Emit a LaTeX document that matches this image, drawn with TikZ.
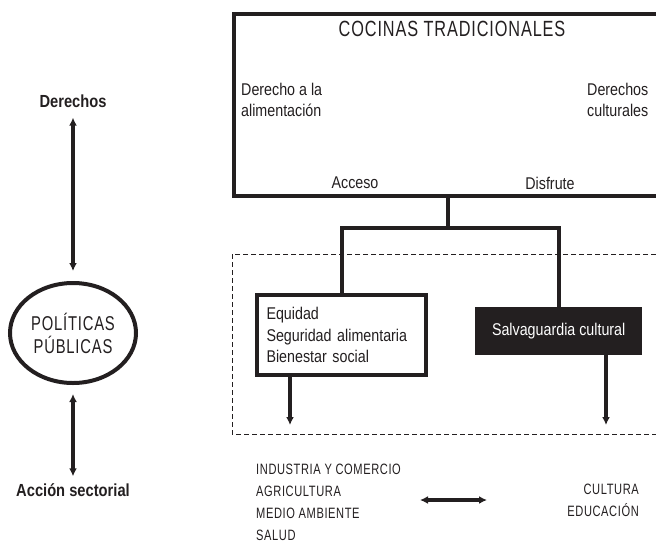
\documentclass[tikz,border=0pt]{standalone}
\usepackage{fontspec}
\setmainfont[FakeStretch=0.84]{Liberation Sans}
\newfontfamily\capsfont[FakeStretch=0.74,LetterSpace=4]{Liberation Sans}
\usetikzlibrary{arrows.meta,shapes.geometric}

\begin{document}
\begin{tikzpicture}[x=1pt,y=-1pt,
  txt/.style={inner sep=0pt,font=\fontsize{17}{21.5}\selectfont,text=ink},
  caps/.style={inner sep=0pt,font=\capsfont\fontsize{15}{22}\selectfont,text=ink},
  thickbox/.style={draw=ink,line width=4pt},
  link/.style={draw=ink,line width=4pt},
  arrow/.style={draw=ink,line width=3.5pt,-{Latex[length=8pt,width=8pt]}},
  dblarrow/.style={draw=ink,line width=3.5pt,{Latex[length=8pt,width=8pt]}-{Latex[length=8pt,width=8pt]}}]
\definecolor{ink}{HTML}{231F20}
\useasboundingbox (0,0) rectangle (656,544);
\clip (0,0) rectangle (656,544);
% caja superior
\node[thickbox,minimum width=460pt,minimum height=182pt,anchor=north west] (cocinas) at (232,12) {};
\node[caps,font=\capsfont\fontsize{22}{24}\selectfont] (titulo) at (452,29) {COCINAS TRADICIONALES};
\node[txt,anchor=west,align=left] (alimentacion) at (241,100) {Derecho a la\\alimentación};
\node[txt,anchor=west,align=left] (culturales) at (587,100) {Derechos\\culturales};
\node[txt] (acceso) at (355,183) {Acceso};
\node[txt] (disfrute) at (550,183) {Disfrute};
% zona de politicas
\draw[ink,line width=1pt,dash pattern=on 5pt off 3pt] (232,254) rectangle (680,434);
\node[thickbox,fill=white,minimum width=169pt,minimum height=80pt,anchor=north west,
  txt,inner sep=0pt,text width=150pt,align=left] (equidad) at (255,293)
  {Equidad\\Seguridad alimentaria\\Bienestar social};
\node[fill=ink,minimum width=167pt,minimum height=48pt,anchor=north west,
  txt,text=white] (salvaguardia) at (475,307) {Salvaguardia cultural};
\coordinate (split) at (448,228);
\draw[link] (split |- cocinas.south) -- (split);
\draw[link] (equidad.north) |- (split) -| (salvaguardia.north);
\coordinate (salidaA) at (290,425);
\coordinate (salidaB) at (606,425);
\draw[arrow] (salidaA |- equidad.south) -- (salidaA);
\draw[arrow] (salidaB |- salvaguardia.south) -- (salidaB);
% sectores
\node[caps,anchor=north west,align=left] (sectores) at (256,464)
  {INDUSTRIA Y COMERCIO\\AGRICULTURA\\MEDIO AMBIENTE\\SALUD};
\node[caps,anchor=north east,align=right] (cultura) at (639,484) {CULTURA\\EDUCACIÓN};
\coordinate (ida) at (420,500);
\coordinate (vuelta) at (487,500);
\draw[dblarrow] (ida) -- (vuelta);
% columna izquierda
\node[txt,font=\bfseries\fontsize{17.5}{18}\selectfont] (derechos) at (73,101) {Derechos};
\node[ellipse,draw=ink,line width=4pt,minimum width=126pt,minimum height=100pt,
  caps,font=\capsfont\fontsize{20}{23}\selectfont,align=center] (politicas) at (73,333)
  {POLÍTICAS\\PÚBLICAS};
\node[txt,font=\bfseries\fontsize{17.5}{18}\selectfont] (accion) at (73,490) {Acción sectorial};
\draw[dblarrow,shorten <=10pt,shorten >=10pt] (derechos) -- (politicas);
\draw[dblarrow,shorten <=9pt,shorten >=7pt] (politicas) -- (accion);
\end{tikzpicture}
\end{document}
